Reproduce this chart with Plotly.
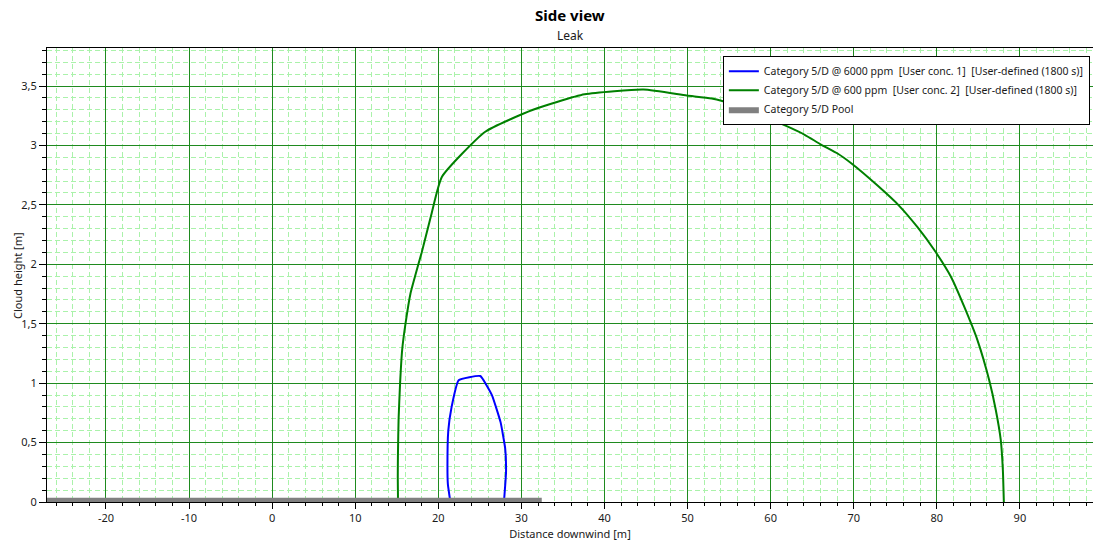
import plotly.graph_objects as go

# Cloud envelope at 6000 ppm (downwind distance, height)
c6000_x = [21.45, 21.15, 21.1, 21.2, 21.6, 22.45, 25.05, 26.45, 27.5, 28.05, 28.15, 27.9]
c6000_y = [0.0, 0.15, 0.3, 0.6, 0.8, 1.025, 1.06, 0.9, 0.67, 0.45, 0.25, 0.0]

# Cloud envelope at 600 ppm
c600_x = [15.15, 15.12, 15.14, 15.22, 15.40, 15.65, 16.05, 16.65, 17.2, 18.0, 19.2,
          20.44, 25.65, 31.4, 37.6, 44.7, 49.9, 52.9, 55.7, 59.7, 62.0, 64.1, 66.0,
          68.1, 69.7, 72.9, 75.5, 77.7, 79.7, 81.7, 83.3, 84.9, 86.3, 87.1, 87.7,
          87.95, 88.07]
c600_y = [0.0, 0.2, 0.4, 0.7, 1.0, 1.28, 1.50, 1.755, 1.90, 2.10, 2.43,
          2.736, 3.115, 3.30, 3.43, 3.47, 3.42, 3.395, 3.34, 3.23, 3.16, 3.09, 3.01,
          2.93, 2.85, 2.66, 2.49, 2.31, 2.12, 1.895, 1.643, 1.36, 1.026, 0.774, 0.52,
          0.27, 0.0]

# Pool extent along the ground
pool_x = [-27.1, 32.45]
pool_depth = 0.035

# Axis tick labels
x_ticks = [-20, -10, 0, 10, 20, 30, 40, 50, 60, 70, 80, 90]
x_tick_labels = ["-20", "-10", "0", "10", "20", "30", "40", "50", "60", "70", "80", "90"]

names = [
    "Category 5/D @ 6000 ppm\u00a0\u00a0[User conc. 1]\u00a0\u00a0[User-defined (1800 s)]",
    "Category 5/D @ 600 ppm\u00a0\u00a0[User conc. 2]\u00a0\u00a0[User-defined (1800 s)]",
    "Category 5/D Pool",
]

fig = go.Figure()

fig.add_trace(go.Scatter(
    x=c6000_x, y=c6000_y, mode="lines", name=names[0],
    line=dict(color="#0000ff", width=2, shape="spline", smoothing=0.35),
))
fig.add_trace(go.Scatter(
    x=c600_x, y=c600_y, mode="lines", name=names[1],
    line=dict(color="#008000", width=2, shape="spline", smoothing=0.5),
))
fig.add_trace(go.Scatter(
    x=[pool_x[0], pool_x[1], pool_x[1], pool_x[0], pool_x[0]],
    y=[0, 0, pool_depth, pool_depth, 0],
    mode="lines", fill="toself", name=names[2],
    fillcolor="#808080", line=dict(color="#808080", width=0),
))

font_family = "Noto Sans, Open Sans, sans-serif"

fig.update_layout(
    width=1095, height=545,
    margin=dict(l=47, r=2, t=48, b=43),
    paper_bgcolor="white", plot_bgcolor="white",
    separators=", ",
    font=dict(family=font_family, size=11, color="#1a1a1a"),
    legend=dict(
        x=0.997, xanchor="right", y=0.983, yanchor="top",
        bgcolor="white", bordercolor="black", borderwidth=1,
        font=dict(size=10.5, color="#1a1a1a"),
        tracegroupgap=0, itemwidth=30,
    ),
    showlegend=True,
    annotations=[
        dict(text="<b>Side view</b>", xref="paper", yref="paper",
             x=0.5, y=1.0725, xanchor="center", yanchor="middle",
             showarrow=False, font=dict(size=15, color="black")),
        dict(text="Leak", xref="paper", yref="paper",
             x=0.5, y=1.0286, xanchor="center", yanchor="middle",
             showarrow=False, font=dict(size=12, color="#1a1a1a")),
        dict(text="Cloud height [m]", xref="paper", yref="paper",
             x=-0.0287, y=0.5, xanchor="center", yanchor="middle",
             textangle=-90, showarrow=False,
             font=dict(size=11, color="#1a1a1a")),
    ],
)

fig.update_xaxes(
    range=[-27.1, 98.8], tickvals=x_ticks, ticktext=x_tick_labels,
    showgrid=True, gridcolor="#1f8a1f", gridwidth=1,
    zeroline=False,
    showline=True, linecolor="black", linewidth=1, mirror=True,
    ticks="outside", ticklen=6, tickcolor="black",
    minor=dict(dtick=2, tick0=0, showgrid=True, gridcolor="#aaf2aa",
               griddash="5px,3px", ticks="outside", ticklen=3, tickcolor="black"),
    title=dict(text="Distance downwind [m]", standoff=6, font=dict(size=11)),
)
fig.update_yaxes(
    range=[0, 3.82], dtick=0.5, tick0=0,
    showgrid=True, gridcolor="#1f8a1f", gridwidth=1,
    zeroline=False,
    showline=True, linecolor="black", linewidth=1,
    ticks="outside", ticklen=7, tickcolor="black",
    minor=dict(dtick=0.1, showgrid=True, gridcolor="#aaf2aa",
               griddash="5px,3px", ticks="outside", ticklen=4, tickcolor="black"),
)

fig.write_html("out.html")
